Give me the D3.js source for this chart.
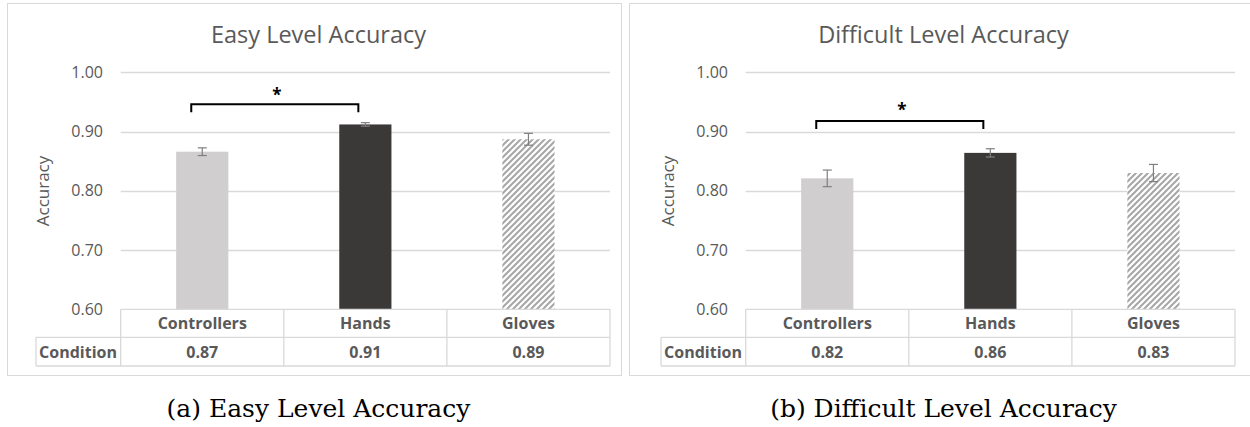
<!DOCTYPE html>
<html>
<head>
<meta charset="utf-8">
<script src="https://cdn.jsdelivr.net/npm/d3@7"></script>
<style>
  body { margin: 0; background: #fff; }
  svg { display: block; }
</style>
</head>
<body>
<svg id="chart" width="1250" height="427"></svg>
<script>
// chart data
const categories = ["Controllers", "Hands", "Gloves"]
const yTicks = [0.6, 0.7, 0.8, 0.9, 1.0]

const easyMeans = [0.866, 0.912, 0.887]
const easyErrors = [0.0065, 0.003, 0.01]
const easyLabels = ["0.87", "0.91", "0.89"]

const hardMeans = [0.821, 0.864, 0.830]
const hardErrors = [0.014, 0.007, 0.0145]
const hardLabels = ["0.82", "0.86", "0.83"]

const titles = ["Easy Level Accuracy", "Difficult Level Accuracy"]
const captions = ["(a) Easy Level Accuracy", "(b) Difficult Level Accuracy"]
// significance bracket: bar pair, bracket level, star level (data units)
const easySig = [0, 1, 0.946, 0.967]
const hardSig = [0, 1, 0.9177, 0.9417]

const svg = d3.select("#chart")
const gray = "#595959"
const lineGray = "#d9d9d9"
const barColors = ["#d0cece", "#3b3838", "url(#hatch)"]

// wide upward diagonal pattern for the gloves bar
const defs = svg.append("defs")
const pat = defs.append("pattern")
    .attr("id", "hatch")
    .attr("patternUnits", "userSpaceOnUse")
    .attr("width", 6)
    .attr("height", 6)
pat.append("rect").attr("width", 6).attr("height", 6).attr("fill", "#fff")
pat.append("path")
    .attr("d", "M-1,7 L7,-1 M-2,2 L2,-2 M4,8 L8,4")
    .attr("stroke", "#a6a6a6")
    .attr("stroke-width", 2)

function drawPanel(offsetX, borderX, borderW, title, caption, means, errors, labels, sig) {
    const g = svg.append("g").attr("transform", `translate(${offsetX},0)`)

    // panel border
    g.append("rect")
        .attr("x", borderX).attr("y", 3.5)
        .attr("width", borderW).attr("height", 372)
        .attr("fill", "none")
        .attr("stroke", lineGray)

    const x = d3.scaleBand()
        .domain(categories)
        .range([120.7, 610])
        .paddingInner(0.68)
        .paddingOuter(0.34)

    const y = d3.scaleLinear()
        .domain([0.6, 1.0])
        .range([309.3, 72.3])

    // title
    g.append("text")
        .attr("x", 318.5).attr("y", 43)
        .attr("text-anchor", "middle")
        .attr("font-family", "Open Sans")
        .attr("font-size", 23.5)
        .attr("fill", gray)
        .text(title)

    // gridlines
    g.append("g").selectAll("line")
        .data(yTicks.filter(t => t > 0.6))
        .join("line")
        .attr("x1", 120.7).attr("x2", 610)
        .attr("y1", d => Math.round(y(d)) + 0.5)
        .attr("y2", d => Math.round(y(d)) + 0.5)
        .attr("stroke", lineGray)
        .attr("stroke-width", 1.3)

    // y axis labels
    const axis = g.append("g")
        .attr("transform", "translate(103,0)")
        .call(d3.axisLeft(y).tickValues(yTicks).tickFormat(d3.format(".2f")).tickSize(0).tickPadding(0))
    axis.select(".domain").remove()
    axis.selectAll("text")
        .attr("font-family", "Open Sans")
        .attr("font-size", 16)
        .attr("fill", gray)

    g.append("text")
        .attr("transform", "translate(49,191) rotate(-90)")
        .attr("text-anchor", "middle")
        .attr("font-family", "Open Sans")
        .attr("font-size", 17)
        .attr("fill", gray)
        .text("Accuracy")

    // bars
    g.append("g").selectAll("rect")
        .data(categories)
        .join("rect")
        .attr("x", d => x(d))
        .attr("y", (d, i) => y(means[i]))
        .attr("width", x.bandwidth())
        .attr("height", (d, i) => y(0.6) - y(means[i]))
        .attr("fill", (d, i) => barColors[i])

    // error bars
    const eb = g.append("g").attr("stroke", "#7f7f7f").attr("stroke-width", 1.2)
    categories.forEach((c, i) => {
        let cx = x(c) + x.bandwidth() / 2
        let top = y(means[i] + errors[i])
        let bot = y(means[i] - errors[i])
        eb.append("line").attr("x1", cx).attr("x2", cx).attr("y1", top).attr("y2", bot)
        eb.append("line").attr("x1", cx - 4.5).attr("x2", cx + 4.5).attr("y1", top).attr("y2", top)
        eb.append("line").attr("x1", cx - 4.5).attr("x2", cx + 4.5).attr("y1", bot).attr("y2", bot)
    })

    // significance bracket
    let bx1 = x(categories[sig[0]]) + x.bandwidth() / 2 - 11
    let bx2 = x(categories[sig[1]]) + x.bandwidth() / 2 - 7
    let by = y(sig[2])
    let line = d3.line()
    g.append("path")
        .attr("d", line([[bx1, by + 8], [bx1, by], [bx2, by], [bx2, by + 8]]))
        .attr("fill", "none")
        .attr("stroke", "#000")
        .attr("stroke-width", 2)
    g.append("text")
        .attr("x", (bx1 + bx2) / 2 + 2)
        .attr("y", y(sig[3]) + 9)
        .attr("text-anchor", "middle")
        .attr("font-family", "Open Sans")
        .attr("font-weight", "bold")
        .attr("font-size", 17)
        .attr("fill", "#000")
        .text("*")

    // data table
    const tbl = g.append("g")
        .attr("fill", "none")
        .attr("stroke", lineGray)
        .attr("stroke-width", 1.3)
    const rowTop = y(0.6), rowMid = 337.3, rowBot = 366
    tbl.append("line").attr("x1", 120.7).attr("x2", 610).attr("y1", rowTop).attr("y2", rowTop)
    tbl.append("line").attr("x1", 36).attr("x2", 610).attr("y1", rowMid).attr("y2", rowMid)
    tbl.append("line").attr("x1", 36).attr("x2", 610).attr("y1", rowBot).attr("y2", rowBot)
    tbl.append("line").attr("x1", 36).attr("x2", 36).attr("y1", rowMid).attr("y2", rowBot)
    let edges = [120.7, 120.7 + x.step(), 120.7 + 2 * x.step(), 610]
    edges.forEach(ex => {
        tbl.append("line").attr("x1", ex).attr("x2", ex).attr("y1", rowTop).attr("y2", rowBot)
    })

    const cellText = g.append("g")
        .attr("font-family", "Open Sans")
        .attr("font-weight", "bold")
        .attr("font-size", 16)
        .attr("fill", gray)
        .attr("text-anchor", "middle")
    categories.forEach((c, i) => {
        let cx = x(c) + x.bandwidth() / 2
        cellText.append("text").attr("x", cx).attr("y", 329).text(c)
        cellText.append("text").attr("x", cx).attr("y", 358).text(labels[i])
    })
    cellText.append("text").attr("x", 78).attr("y", 358).text("Condition")

    // caption under the panel
    g.append("text")
        .attr("x", 318.5).attr("y", 417)
        .attr("text-anchor", "middle")
        .attr("font-family", "DejaVu Serif")
        .attr("font-size", 25)
        .attr("fill", "#000")
        .text(caption)
}

drawPanel(0, 7.5, 614, titles[0], captions[0], easyMeans, easyErrors, easyLabels, easySig)
// right panel's frame runs past the picture's right edge
drawPanel(625, 4.5, 640, titles[1], captions[1], hardMeans, hardErrors, hardLabels, hardSig)
</script>
</body>
</html>
